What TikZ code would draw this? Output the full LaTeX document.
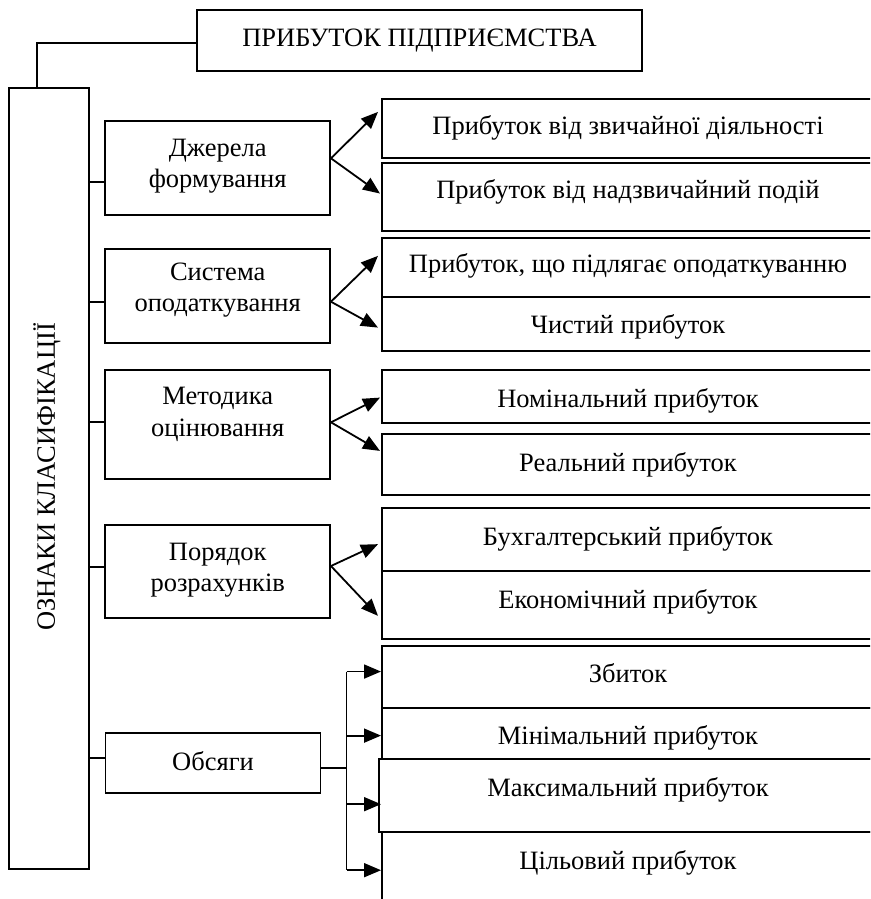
\documentclass[tikz,border=0pt]{standalone}
\usepackage{fontspec}
\setmainfont{Liberation Serif}
\usetikzlibrary{arrows.meta}
\begin{document}
\begin{tikzpicture}[x=1pt,y=-1pt,
  every node/.style={font=\fontsize{26.5}{31.5}\selectfont},
  box/.style={draw, line width=1.8pt, inner sep=0pt, rectangle},
  rbox/.style={box, minimum width=495pt, anchor=north west},
  mbox/.style={box, minimum width=224.7pt},
  txt/.style={inner sep=0pt, text height=18.5pt, text depth=5.8pt},
  mtxt/.style={inner sep=0pt, align=center},
  ln/.style={line width=1.8pt},
  arr/.style={line width=1.8pt, -{Triangle[length=17pt,width=14pt]}}
]
\useasboundingbox (0,0) rectangle (870,899);
\begin{scope}
\clip (0,0) rectangle (870,899);

% title and side box
\node[box, minimum width=445pt, minimum height=61pt, text height=18.5pt, text depth=5.8pt] (title) at (419.5,40.5) {};
\node[txt] (titlet) at (419.5,40) {ПРИБУТОК ПІДПРИЄМСТВА};
\node[box, minimum width=80pt, minimum height=781pt] (side) at (49.3,478.5) {};
\node[rotate=90, inner sep=0pt] (sidet) at (47,477) {ОЗНАКИ КЛАСИФІКАЦІЇ};
\coordinate (tw) at ([yshift=-2.2pt]title.west);
\draw[ln] (tw) -| ([xshift=-12.6pt]side.north);

% middle boxes
\node[mbox, minimum height=94pt] (dj) at (217.7,168) {};
\node[mtxt] (djt) at (217.7,166) {Джерела\\формування};
\node[mbox, minimum height=93.7pt] (sys) at (217.7,295.9) {};
\node[mtxt] (syst) at (217.7,290) {Система\\оподаткування};
\node[mbox, minimum height=108.7pt] (met) at (217.7,424.3) {};
\node[mtxt] (mett) at (217.7,414.5) {Методика\\оцінювання};
\node[mbox, minimum height=93.6pt] (por) at (217.7,571.5) {};
\node[mtxt] (port) at (217.7,570) {Порядок\\розрахунків};
\node[box, minimum width=215pt, minimum height=60pt] (obs) at (213,763.3) {};
\node[txt] (obst) at (213,764.5) {Обсяги};

% stubs from side box
\coordinate (djs) at ([yshift=-14.3pt]dj.west);
\coordinate (syss) at ([yshift=-5.8pt]sys.west);
\coordinate (mets) at ([yshift=2.3pt]met.west);
\coordinate (pors) at ([yshift=4.8pt]por.west);
\coordinate (obss) at ([yshift=5pt]obs.west);
\foreach \s in {djs,syss,mets,pors,obss} \draw[ln] (\s) -- (side.east |- \s);

% right boxes
\node[rbox, minimum height=59pt] (b1) at (381,97.7) {};
\node[rbox, minimum height=68.3pt] (b2) at (381,161.7) {};
\node[rbox, minimum height=59.3pt] (b3) at (381,236.7) {};
\node[rbox, minimum height=54pt] (b4) at (381,296) {};
\node[rbox, minimum height=52.4pt] (b5) at (381,369.3) {};
\node[rbox, minimum height=61pt] (b6) at (381,433.3) {};
\node[rbox, minimum height=63.3pt] (b7) at (381,506.7) {};
\node[rbox, minimum height=68.3pt] (b8) at (381,570) {};
\node[rbox, minimum height=61.7pt] (b9) at (381,645) {};
\node[rbox, minimum height=51.6pt] (b10) at (381,706.7) {};
\node[rbox, minimum height=120pt] (b12) at (381,830.7) {};
\node[rbox, minimum width=498pt, minimum height=72.4pt, fill=white] (b11) at (378,758.3) {};

\node[txt] (t1) at (628,128) {Прибуток від звичайної діяльності};
\node[txt] (t2) at (628,192.3) {Прибуток від надзвичайний подій};
\node[txt] (t3) at (628,266.3) {Прибуток, що підлягає оподаткуванню};
\node[txt] (t4) at (628,327.3) {Чистий прибуток};
\node[txt] (t5) at (628,400.7) {Номінальний прибуток};
\node[txt] (t6) at (628,465.3) {Реальний прибуток};
\node[txt] (t7) at (628,538.7) {Бухгалтерський прибуток};
\node[txt] (t8) at (628,602.3) {Економічний прибуток};
\node[txt] (t9) at (628,676.3) {Збиток};
\node[txt] (t10) at (628,738) {Мінімальний прибуток};
\node[txt] (t11) at (628,789.7) {Максимальний прибуток};
\node[txt] (t12) at (628,863) {Цільовий прибуток};

% fork arrows
\coordinate (dja) at ([yshift=9.7pt]dj.east);
\draw[arr] (dja) -- ([shift={(-3,-16.2)}]b1.west);
\draw[arr] (dja) -- ([shift={(-1,-3.2)}]b2.west);
\coordinate (sysa) at ([yshift=-5.8pt]sys.east);
\draw[arr] (sysa) -- ([shift={(-3,-11.4)}]b3.west);
\draw[arr] (sysa) -- ([shift={(-3,3.7)}]b4.west);
\coordinate (meta) at ([yshift=2pt]met.east);
\draw[arr] (meta) -- ([shift={(-1,1.2)}]b5.west);
\draw[arr] (meta) -- ([shift={(-1,-13.8)}]b6.west);
\coordinate (pora) at ([yshift=5.5pt]por.east);
\draw[arr] (pora) -- ([shift={(-3,4.9)}]b7.west);
\draw[arr] (pora) -- ([shift={(-3,10.8)}]b8.west);

% volume bus
\coordinate (obe) at ([yshift=-5pt]obs.east);
\coordinate (bus) at ([xshift=25.1pt]obe);
\draw[ln] (obe) -- (bus);
\coordinate (a1) at ([yshift=5.2pt]b9.west);
\coordinate (a2) at ([yshift=-2.2pt]b10.west);
\coordinate (a3) at ([shift={(3,8.8)}]b11.west);
\coordinate (a4) at ([yshift=21.4pt]b12.west);
\draw[ln] (bus |- a1) -- (bus |- a4);
\foreach \a in {a1,a2,a3,a4} \draw[arr] (bus |- \a) -- (\a);
\end{scope}
\end{tikzpicture}
\end{document}
